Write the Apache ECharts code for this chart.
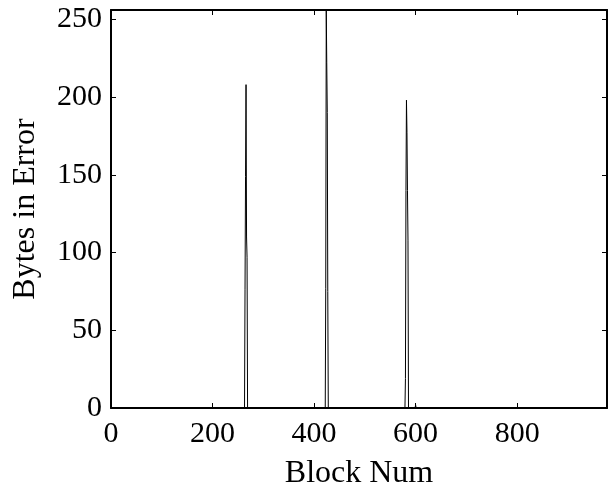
<!DOCTYPE html>
<html>
<head>
<meta charset="utf-8">
<script src="https://cdn.jsdelivr.net/npm/echarts@6/dist/echarts.min.js"></script>
<style>
  html, body { margin: 0; padding: 0; background: #fff; }
  #chart { width: 610px; height: 489px; }
</style>
</head>
<body>
<div id="chart"></div>
<script>
// block numbers and bytes in error (everything else is zero)
const blockNums = [0, 263, 264, 265, 266, 267, 268, 269, 422, 423, 424, 425, 426, 427, 428, 579, 580, 581, 582, 583, 584, 585, 586, 599, 600, 601, 977];
const bytesInError = [0, 0, 76, 149, 208, 110, 97, 0, 0, 77, 256, 222, 190, 75, 0, 0, 19, 140, 198, 177, 140, 108, 0, 0, 2, 0, 0];

const xTicks = [0, 200, 400, 600, 800];
const yTicks = [0, 50, 100, 150, 200, 250];

const points = blockNums.map((b, i) => [b, bytesInError[i]]);

const font = 'Liberation Serif, Times New Roman, serif';
const chart = echarts.init(document.getElementById('chart'));

const baseAxis = {
  axisLine: { show: true, onZero: false, lineStyle: { color: '#000', width: 2 } },
  axisTick: { show: true, inside: true, length: 5, lineStyle: { color: '#000', width: 1 } },
  splitLine: { show: false }
};

chart.setOption({
  animation: false,
  grid: { left: 111, right: 3, top: 10, bottom: 81, show: false, outerBoundsMode: 'none', containLabel: false },
  xAxis: [
    Object.assign({}, baseAxis, {
      type: 'value', min: 0, max: 977, interval: 200,
      name: 'Block Num', nameLocation: 'middle', nameGap: 50,
      nameTextStyle: { fontFamily: font, fontSize: 32, color: '#000' },
      axisLabel: { fontFamily: font, fontSize: 30, color: '#000', margin: 11, showMaxLabel: false,
        formatter: v => xTicks.includes(v) ? String(v) : '' }
    }),
    Object.assign({}, baseAxis, {
      type: 'value', min: 0, max: 977, interval: 200, position: 'top',
      axisLabel: { show: false }
    })
  ],
  yAxis: [
    Object.assign({}, baseAxis, {
      type: 'value', min: 0, max: 256, interval: 50,
      name: 'Bytes in Error', nameLocation: 'middle', nameGap: 69,
      nameTextStyle: { fontFamily: font, fontSize: 32, color: '#000' },
      axisLabel: { fontFamily: font, fontSize: 30, color: '#000', margin: 9, showMaxLabel: false,
        formatter: v => yTicks.includes(v) ? String(v) : '' }
    }),
    Object.assign({}, baseAxis, {
      type: 'value', min: 0, max: 256, interval: 50, position: 'right',
      axisLabel: { show: false }
    })
  ],
  series: [{
    type: 'line',
    data: points,
    showSymbol: false,
    lineStyle: { color: '#000', width: 1 },
    clip: true
  }]
});
</script>
</body>
</html>
